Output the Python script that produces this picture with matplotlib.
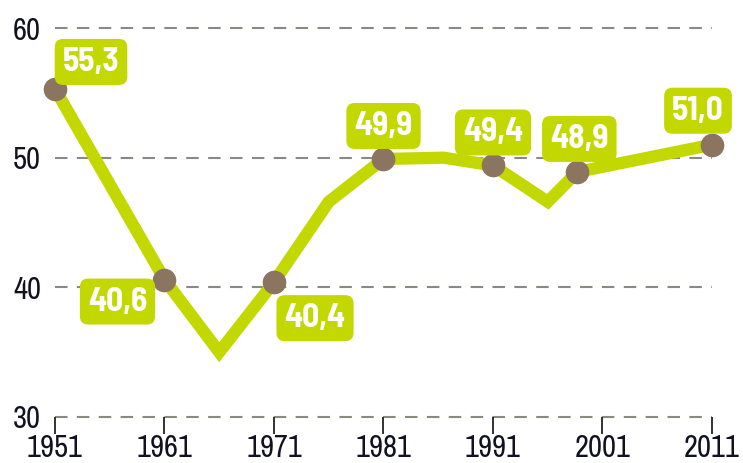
import matplotlib
matplotlib.use("Agg")
import matplotlib.pyplot as plt
from matplotlib import font_manager

years = [1951, 1961, 1966, 1971, 1976, 1981, 1986.5, 1991, 1996, 1998.7, 2011]
values = [55.3, 40.6, 35.0, 40.4, 46.6, 49.9, 50.0, 49.4, 46.6, 48.9, 51.0]
labeled_years = [1951, 1961, 1971, 1981, 1991, 1998.7, 2011]
labeled_values = [55.3, 40.6, 40.4, 49.9, 49.4, 48.9, 51.0]
labels = ["55,3", "40,6", "40,4", "49,9", "49,4", "48,9", "51,0"]
label_offsets = [(36, 27), (-47, -22), (41, -36), (0, 33), (0, 33), (2, 33), (-14, 34)]
xticks = [1951, 1961, 1971, 1981, 1991, 2001, 2011]
yticks = [30, 40, 50, 60]

names = {f.name for f in font_manager.fontManager.ttflist}
def pick(*cands):
    for c in cands:
        if c in names:
            return c
    return "DejaVu Sans"
axis_font = pick("Archivo Narrow", "PT Sans Narrow", "Roboto Condensed")
label_font = pick("Barlow Semi Condensed", "Barlow Condensed", "Roboto Condensed")

GREEN = "#c2d800"
BROWN = "#8c7560"

fig = plt.figure(figsize=(7.43, 4.63), dpi=100)
W, H = 743, 463
ax = fig.add_axes([55 / W, (H - 417) / H, (712 - 55) / W, (417 - 28) / H])
ax.set_xlim(1951, 2011)
ax.set_ylim(30, 60)

for y in yticks:
    ax.axhline(y, color="#8a8a80", lw=1.5, linestyle=(0, (6, 4.5)), zorder=1, clip_on=False)

ax.plot(years, values, color=GREEN, lw=8.8, solid_joinstyle="miter", solid_capstyle="butt",
        zorder=2, clip_on=False)
ax.plot(labeled_years, labeled_values, "o", color=BROWN, markersize=16, zorder=3, clip_on=False)

for x, y, t, (dx, dy) in zip(labeled_years, labeled_values, labels, label_offsets):
    ax.annotate(t, xy=(x, y), xytext=(dx, dy), textcoords="offset pixels",
                ha="center", va="center", fontsize=24, fontweight="bold", color="white",
                family=label_font, zorder=4,
                bbox=dict(boxstyle="round,pad=0.24,rounding_size=0.25", fc=GREEN, ec="none"))

for s in ax.spines.values():
    s.set_visible(False)

ax.set_xticks(xticks)
ax.set_xticklabels([str(x) for x in xticks], fontsize=22, family=axis_font, color="#111122")
ax.set_yticks(yticks)
ax.set_yticklabels([str(y) for y in yticks], fontsize=22, family=axis_font, color="#111122")
ax.tick_params(axis="x", direction="out", length=12, width=1.3, color="#222222", pad=0)
ax.tick_params(axis="y", length=0, pad=10)

fig.savefig("out.png", dpi=100)
